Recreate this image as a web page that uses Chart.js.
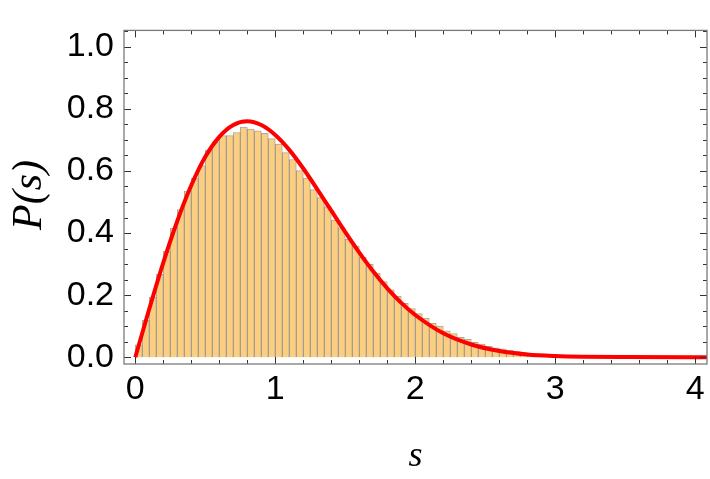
<!DOCTYPE html>
<html>
<head>
<meta charset="utf-8">
<script src="https://cdn.jsdelivr.net/npm/chart.js@4.4.1/dist/chart.umd.min.js"></script>
<style>
html,body{margin:0;padding:0;background:#fff;}
#wrap{width:710px;height:479px;position:relative;}
</style>
</head>
<body>
<div id="wrap"><canvas id="c"></canvas></div>
<script>
// histograma de espaciamientos + curva P(s)
const binWidth = 0.05;
const histHeights = [0.040,0.119,0.194,0.267,0.341,0.415,0.476,0.535,0.577,0.617,
  0.667,0.694,0.714,0.714,0.724,0.741,0.735,0.729,0.721,0.704,
  0.687,0.659,0.637,0.601,0.577,0.540,0.514,0.485,0.442,0.418,
  0.380,0.358,0.323,0.299,0.271,0.244,0.217,0.196,0.174,0.157,
  0.141,0.126,0.109,0.100,0.085,0.076,0.064,0.058,0.048,0.042,
  0.035,0.030,0.027,0.022,0.018,0.015,0.012,0.010,0.008,0.006,
  0.005,0.004,0.003,0.002];
const curveS = [0,0.1,0.2,0.3,0.4,0.5,0.6,0.7,0.8,0.9,1.0,1.1,1.2,1.3,1.4,1.5,1.6,1.7,1.8,1.9,2.0,2.2,2.4,2.6,2.8,3.0,3.2,3.5,4.0,4.1];
const curveP = [0,0.156,0.305,0.439,0.554,0.646,0.710,0.748,0.760,0.748,0.716,0.668,0.608,0.541,0.472,0.403,0.337,0.276,0.222,0.175,0.136,0.077,0.041,0.020,0.009,0.004,0.0016,0.0004,0,0];
const xTicks = [0,1,2,3,4];
const yTicks = [0,0.2,0.4,0.6,0.8,1.0];
const xTitle = 's', yTitle = 'P(s)';

const tc = '#000', frameC = '#7a7a7a', tickC = '#333';
const lblFont = {family:'"Liberation Sans", Arial, sans-serif', size:34};

const binCenters = histHeights.map((_,i)=> +(i*binWidth + binWidth/2).toFixed(3));

const framePlugin = {
  id:'frame',
  afterDatasetsDraw(chart){
    const {ctx, chartArea:a, scales:{x, y}} = chart;
    ctx.save();
    // marcas menores y mayores, hacia adentro en los 4 lados
    ctx.strokeStyle = tickC; ctx.lineWidth = 1;
    const tickX = (v, len) => {
      const px = Math.round(x.getPixelForValue(v)) + 0.5;
      ctx.beginPath();
      ctx.moveTo(px, a.bottom); ctx.lineTo(px, a.bottom - len);
      ctx.moveTo(px, a.top); ctx.lineTo(px, a.top + len);
      ctx.stroke();
    };
    const tickY = (v, len) => {
      const py = Math.round(y.getPixelForValue(v)) + 0.5;
      ctx.beginPath();
      ctx.moveTo(a.left, py); ctx.lineTo(a.left + len, py);
      ctx.moveTo(a.right, py); ctx.lineTo(a.right - len, py);
      ctx.stroke();
    };
    for (let v = 0; v <= x.max + 1e-9; v += 0.2) tickX(v, Math.abs(v - Math.round(v)) < 1e-6 ? 7 : 4);
    for (let v = 0; v <= y.max + 1e-9; v += 0.05) tickY(v, Math.abs(v*5 - Math.round(v*5)) < 1e-6 ? 7 : 4);
    // marco
    ctx.strokeStyle = frameC; ctx.lineWidth = 1.3;
    ctx.strokeRect(a.left, a.top, a.right - a.left, a.bottom - a.top);
    ctx.restore();
  },
  afterDraw(chart){
    const {ctx, chartArea:a} = chart;
    ctx.save();
    ctx.fillStyle = tc;
    ctx.textAlign = 'center'; ctx.textBaseline = 'middle';
    ctx.font = 'italic 36px "Liberation Serif", "Times New Roman", serif';
    ctx.fillText(xTitle, (a.left + a.right)/2, 457);
    ctx.font = 'italic 42px "Liberation Serif", "Times New Roman", serif';
    ctx.translate(30, 195); ctx.rotate(-Math.PI/2);
    ctx.fillText(yTitle, 0, 0);
    ctx.restore();
  }
};

new Chart(document.getElementById('c').getContext('2d'), {
  data:{datasets:[
    {type:'line', label:'P(s)', data:curveS.map((s,i)=>({x:s, y:curveP[i]})),
     borderColor:'#ff0000', borderWidth:4, pointRadius:0, cubicInterpolationMode:'monotone', fill:false, order:0},
    {type:'bar', label:'hist', data:binCenters.map((s,i)=>({x:s, y:histHeights[i]})),
     backgroundColor:'rgb(252,207,128)', borderColor:'rgba(120,108,95,0.6)', borderWidth:1,
     barPercentage:1, categoryPercentage:1, order:1}
  ]},
  options:{
    responsive:true, maintainAspectRatio:false, animation:false,
    layout:{padding:{top:4, right:3, left:0, bottom:0}},
    plugins:{legend:{display:false}, tooltip:{enabled:false}},
    scales:{
      x:{type:'linear', min:-0.0807, max:4.0836, offset:false,
         afterBuildTicks:s=>{ s.ticks = xTicks.map(v=>({value:v})); },
         afterFit:s=>{ s.height = 115; },
         grid:{display:false, drawTicks:false, offset:false}, border:{display:false},
         ticks:{color:tc, font:lblFont, padding:5, maxRotation:0, autoSkip:false, callback:v=>String(v)}},
      y:{type:'linear', min:-0.0218, max:1.0528,
         afterBuildTicks:s=>{ s.ticks = yTicks.map(v=>({value:v})); },
         afterFit:s=>{ s.width = 124; },
         grid:{display:false, drawTicks:false}, border:{display:false},
         ticks:{color:tc, font:lblFont, padding:10, autoSkip:false, callback:v=>v.toFixed(1)}}
    }
  },
  plugins:[framePlugin]
});
</script>
</body>
</html>
